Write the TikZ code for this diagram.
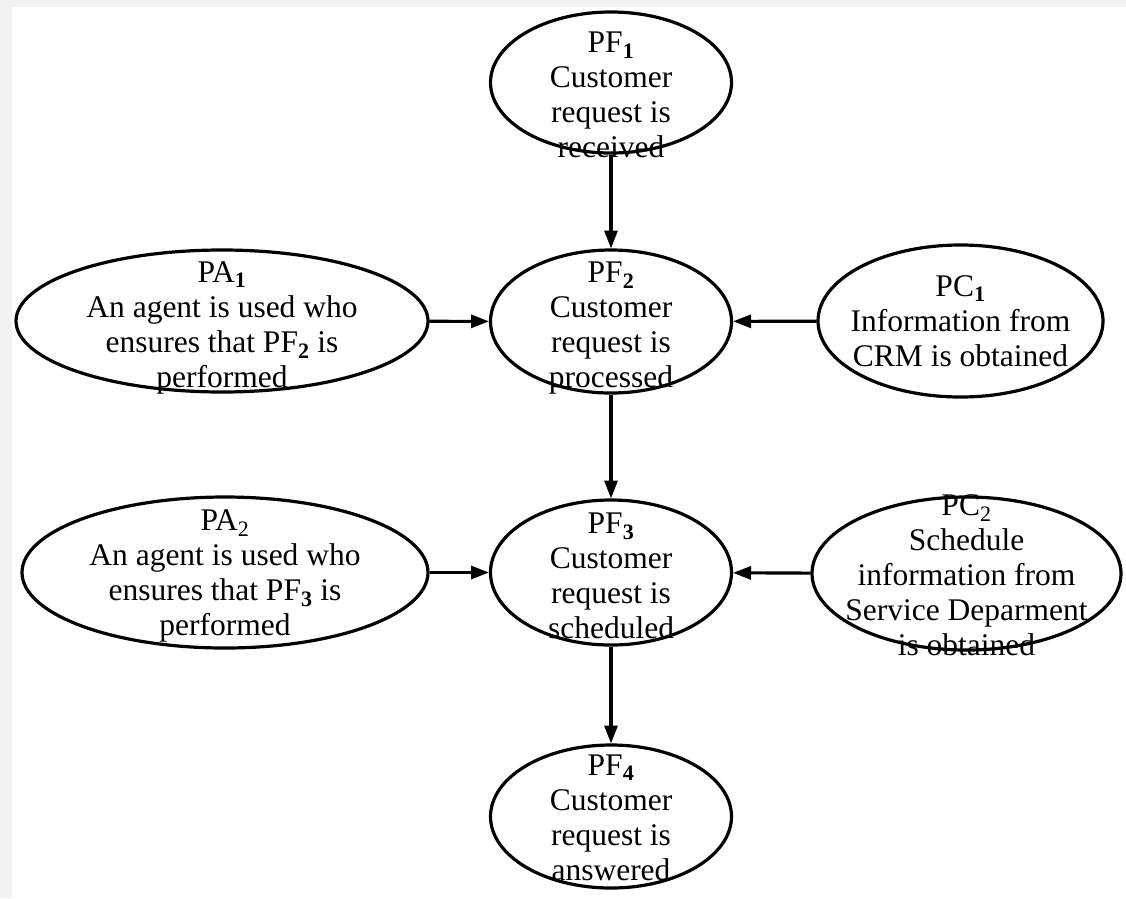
\documentclass[tikz,border=0pt]{standalone}
\usepackage{fontspec}
\setmainfont{Liberation Serif}
\usetikzlibrary{shapes.geometric,arrows.meta}
\newcommand\bsub[1]{\textsubscript{\textbf{#1}}}
\newcommand\rsub[1]{\textsubscript{#1}}
\begin{document}
\begin{tikzpicture}[x=1pt,y=-1pt,
  oval/.style={ellipse,draw,line width=3.2pt,inner sep=0pt,outer sep=0pt},
  txt/.style={align=center,inner sep=0pt,font=\fontsize{31.5}{35}\selectfont},
  flow/.style={line width=3.1pt,-{Triangle[length=18pt,width=13pt]},shorten >=1.5pt,shorten <=1.5pt}]
  % page with a light grey frame on the top and left
  \fill[gray!10] (0,0) rectangle (1126,898);
  \fill[white] (12,7) rectangle (1126,898);
  \useasboundingbox (0,0) rectangle (1126,898);

  % main flow
  \node[oval,minimum width=241pt,minimum height=141pt] (pf1) at (611,82.5) {};
  \node[oval,minimum width=241pt,minimum height=143pt] (pf2) at (611,321.5) {};
  \node[oval,minimum width=241pt,minimum height=145pt] (pf3) at (611,572.5) {};
  \node[oval,minimum width=241pt,minimum height=143pt] (pf4) at (611,816.5) {};
  % agents
  \node[oval,minimum width=412pt,minimum height=142pt] (pa1) at (222,321) {};
  \node[oval,minimum width=406pt,minimum height=151pt] (pa2) at (225,572.5) {};
  % conditions
  \node[oval,minimum width=285pt,minimum height=152pt] (pc1) at (960.5,321) {};
  \node[oval,minimum width=309pt,minimum height=153pt] (pc2) at (966.5,573.5) {};

  % labels
  \node[txt] (pf1t) at (611,98) {\strut PF\bsub{1}\\Customer\\request is\\received\strut};
  \node[txt] (pf2t) at (611,327.5) {\strut PF\bsub{2}\\Customer\\request is\\processed\strut};
  \node[txt] (pf3t) at (611,578.5) {\strut PF\bsub{3}\\Customer\\request is\\scheduled\strut};
  \node[txt] (pf4t) at (611,820.5) {\strut PF\bsub{4}\\Customer\\request is\\answered\strut};
  \node[txt] (pa1t) at (222,327.5) {\strut PA\bsub{1}\\An agent is used who\\ensures that PF\bsub{2} is\\performed\strut};
  \node[txt] (pa2t) at (225,576) {\strut PA\rsub{2}\\An agent is used who\\ensures that PF\bsub{3} is\\performed\strut};
  \node[txt] (pc1t) at (960.5,324) {\strut PC\bsub{1}\\Information from\\CRM is obtained\strut};
  \node[txt] (pc2t) at (966.5,578) {\strut PC\rsub{2}\\Schedule\\information from\\Service Deparment\\is obtained\strut};

  % connectors
  \draw[flow] (pf1) -- (pf2);
  \draw[flow] (pf2) -- (pf3);
  \draw[flow] (pf3) -- (pf4);
  \draw[flow] (pa1) -- (pf2);
  \draw[flow] (pc1) -- (pf2);
  \draw[flow] (pa2) -- (pf3);
  \draw[flow] (pc2) -- (pf3);
\end{tikzpicture}
\end{document}
